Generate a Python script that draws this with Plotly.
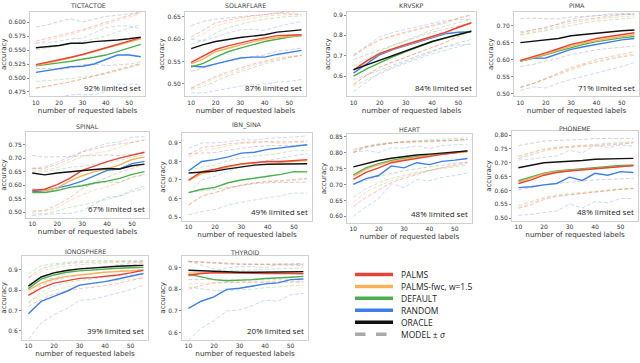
import plotly.graph_objects as go

X = [10, 15, 20, 25, 30, 35, 40, 45, 50, 55]

TITLES = ["TICTACTOE", "SOLARFLARE", "KRVSKP", "PIMA", "SPINAL",
          "IBN_SINA", "HEART", "PHONEME", "IONOSPHERE", "THYROID"]
LIMITED = ["92%", "87%", "84%", "71%", "67%", "49%", "48%", "48%", "39%", "20%"]
SERIES_NAMES = ["PALMS", "PALMS-fwc, w=1.5", "DEFAULT", "RANDOM", "ORACLE"]

# ---------------- TICTACTOE
TICTACTOE_PALMS = [0.524, 0.528, 0.532, 0.537, 0.542, 0.548, 0.554, 0.560, 0.566, 0.572]
TICTACTOE_FWC = [0.522, 0.526, 0.531, 0.536, 0.541, 0.547, 0.553, 0.559, 0.564, 0.570]
TICTACTOE_DEFAULT = [0.522, 0.524, 0.527, 0.530, 0.533, 0.537, 0.541, 0.547, 0.553, 0.560]
TICTACTOE_RANDOM = [0.510, 0.513, 0.516, 0.520, 0.521, 0.525, 0.533, 0.541, 0.541, 0.538]
TICTACTOE_ORACLE = [0.554, 0.556, 0.558, 0.562, 0.562, 0.565, 0.566, 0.568, 0.570, 0.573]
TICTACTOE_PALMS_SD = [0.042, 0.043, 0.043, 0.044, 0.044, 0.045, 0.045, 0.045, 0.046, 0.046]
TICTACTOE_FWC_SD = [0.040, 0.041, 0.041, 0.042, 0.043, 0.043, 0.044, 0.044, 0.045, 0.045]
TICTACTOE_DEFAULT_SD = [0.028, 0.029, 0.030, 0.031, 0.032, 0.033, 0.034, 0.035, 0.035, 0.036]
TICTACTOE_RANDOM_SD = [0.052, 0.050, 0.050, 0.050, 0.050, 0.055, 0.057, 0.052, 0.052, 0.050]
TICTACTOE_ORACLE_SD = [0.037, 0.039, 0.043, 0.044, 0.038, 0.040, 0.044, 0.044, 0.045, 0.044]

# ---------------- SOLARFLARE
SOLARFLARE_PALMS = [0.548, 0.562, 0.577, 0.585, 0.592, 0.598, 0.603, 0.608, 0.609, 0.610]
SOLARFLARE_FWC = [0.545, 0.556, 0.572, 0.580, 0.587, 0.594, 0.600, 0.604, 0.607, 0.609]
SOLARFLARE_DEFAULT = [0.538, 0.546, 0.560, 0.572, 0.580, 0.588, 0.595, 0.600, 0.605, 0.608]
SOLARFLARE_RANDOM = [0.540, 0.538, 0.545, 0.552, 0.558, 0.560, 0.560, 0.566, 0.570, 0.575]
SOLARFLARE_ORACLE = [0.579, 0.588, 0.595, 0.600, 0.604, 0.607, 0.610, 0.616, 0.619, 0.621]
SOLARFLARE_PALMS_SD = [0.057, 0.058, 0.060, 0.058, 0.056, 0.054, 0.052, 0.050, 0.048, 0.046]
SOLARFLARE_FWC_SD = [0.055, 0.056, 0.058, 0.057, 0.055, 0.053, 0.051, 0.050, 0.048, 0.046]
SOLARFLARE_DEFAULT_SD = [0.050, 0.052, 0.054, 0.054, 0.053, 0.052, 0.050, 0.048, 0.046, 0.044]
SOLARFLARE_RANDOM_SD = [0.060, 0.058, 0.060, 0.062, 0.063, 0.062, 0.060, 0.062, 0.064, 0.065]
SOLARFLARE_ORACLE_SD = [0.051, 0.052, 0.050, 0.048, 0.047, 0.046, 0.045, 0.043, 0.042, 0.041]

# ---------------- KRVSKP
KRVSKP_PALMS = [0.630, 0.675, 0.712, 0.735, 0.755, 0.775, 0.795, 0.815, 0.840, 0.862]
KRVSKP_FWC = [0.628, 0.672, 0.710, 0.733, 0.752, 0.772, 0.792, 0.812, 0.838, 0.860]
KRVSKP_DEFAULT = [0.600, 0.635, 0.665, 0.695, 0.720, 0.745, 0.768, 0.786, 0.804, 0.820]
KRVSKP_RANDOM = [0.615, 0.660, 0.705, 0.730, 0.750, 0.770, 0.790, 0.808, 0.815, 0.818]
KRVSKP_ORACLE = [0.632, 0.655, 0.680, 0.703, 0.725, 0.748, 0.770, 0.788, 0.805, 0.820]
KRVSKP_PALMS_SD = [0.070, 0.070, 0.068, 0.065, 0.062, 0.058, 0.054, 0.050, 0.045, 0.040]
KRVSKP_FWC_SD = [0.070, 0.068, 0.066, 0.063, 0.060, 0.056, 0.052, 0.048, 0.044, 0.040]
KRVSKP_DEFAULT_SD = [0.050, 0.052, 0.055, 0.056, 0.057, 0.058, 0.058, 0.059, 0.060, 0.060]
KRVSKP_RANDOM_SD = [0.090, 0.090, 0.088, 0.085, 0.080, 0.075, 0.070, 0.065, 0.062, 0.060]
KRVSKP_ORACLE_SD = [0.050, 0.050, 0.050, 0.050, 0.048, 0.046, 0.045, 0.043, 0.042, 0.040]

# ---------------- PIMA
PIMA_PALMS = [0.598, 0.608, 0.620, 0.632, 0.645, 0.653, 0.662, 0.668, 0.674, 0.679]
PIMA_FWC = [0.596, 0.605, 0.616, 0.628, 0.640, 0.649, 0.657, 0.663, 0.668, 0.673]
PIMA_DEFAULT = [0.596, 0.604, 0.614, 0.625, 0.636, 0.645, 0.653, 0.659, 0.664, 0.668]
PIMA_RANDOM = [0.596, 0.604, 0.605, 0.618, 0.630, 0.638, 0.645, 0.652, 0.658, 0.662]
PIMA_ORACLE = [0.650, 0.654, 0.658, 0.662, 0.670, 0.674, 0.679, 0.682, 0.685, 0.687]
PIMA_PALMS_SD = [0.080, 0.078, 0.075, 0.072, 0.068, 0.065, 0.062, 0.060, 0.058, 0.056]
PIMA_FWC_SD = [0.078, 0.076, 0.073, 0.070, 0.067, 0.064, 0.062, 0.060, 0.058, 0.056]
PIMA_DEFAULT_SD = [0.076, 0.074, 0.071, 0.068, 0.065, 0.062, 0.060, 0.058, 0.056, 0.055]
PIMA_RANDOM_SD = [0.086, 0.084, 0.088, 0.087, 0.088, 0.087, 0.085, 0.082, 0.078, 0.070]
PIMA_ORACLE_SD = [0.070, 0.068, 0.062, 0.058, 0.055, 0.052, 0.050, 0.049, 0.048, 0.047]

# ---------------- SPINAL
SPINAL_PALMS = [0.580, 0.585, 0.602, 0.625, 0.655, 0.672, 0.687, 0.700, 0.710, 0.722]
SPINAL_FWC = [0.585, 0.580, 0.590, 0.615, 0.635, 0.650, 0.660, 0.675, 0.695, 0.705]
SPINAL_DEFAULT = [0.573, 0.573, 0.580, 0.592, 0.598, 0.608, 0.615, 0.625, 0.640, 0.650]
SPINAL_RANDOM = [0.575, 0.580, 0.590, 0.600, 0.615, 0.635, 0.655, 0.660, 0.680, 0.688]
SPINAL_ORACLE = [0.645, 0.638, 0.645, 0.650, 0.655, 0.658, 0.662, 0.660, 0.672, 0.678]
SPINAL_PALMS_SD = [0.080, 0.078, 0.075, 0.072, 0.068, 0.062, 0.058, 0.053, 0.048, 0.045]
SPINAL_FWC_SD = [0.078, 0.076, 0.074, 0.072, 0.070, 0.068, 0.066, 0.065, 0.064, 0.064]
SPINAL_DEFAULT_SD = [0.080, 0.078, 0.076, 0.074, 0.072, 0.070, 0.068, 0.066, 0.064, 0.062]
SPINAL_RANDOM_SD = [0.088, 0.088, 0.095, 0.105, 0.110, 0.105, 0.100, 0.100, 0.098, 0.092]
SPINAL_ORACLE_SD = [0.065, 0.066, 0.060, 0.057, 0.055, 0.053, 0.050, 0.050, 0.043, 0.040]

# ---------------- IBN_SINA
IBNSINA_PALMS = [0.700, 0.745, 0.758, 0.775, 0.787, 0.795, 0.800, 0.800, 0.805, 0.810]
IBNSINA_FWC = [0.695, 0.735, 0.750, 0.770, 0.785, 0.792, 0.800, 0.795, 0.800, 0.805]
IBNSINA_DEFAULT = [0.632, 0.650, 0.660, 0.685, 0.700, 0.712, 0.720, 0.730, 0.745, 0.744]
IBNSINA_RANDOM = [0.750, 0.800, 0.810, 0.825, 0.845, 0.850, 0.865, 0.872, 0.882, 0.890]
IBNSINA_ORACLE = [0.738, 0.743, 0.748, 0.760, 0.770, 0.780, 0.785, 0.787, 0.788, 0.788]
IBNSINA_PALMS_SD = [0.135, 0.130, 0.125, 0.120, 0.115, 0.110, 0.108, 0.105, 0.103, 0.100]
IBNSINA_FWC_SD = [0.130, 0.125, 0.120, 0.116, 0.112, 0.108, 0.105, 0.103, 0.101, 0.100]
IBNSINA_DEFAULT_SD = [0.120, 0.120, 0.120, 0.120, 0.120, 0.118, 0.116, 0.115, 0.115, 0.115]
IBNSINA_RANDOM_SD = [0.120, 0.100, 0.090, 0.080, 0.072, 0.065, 0.060, 0.055, 0.050, 0.048]
IBNSINA_ORACLE_SD = [0.105, 0.102, 0.100, 0.100, 0.100, 0.100, 0.100, 0.100, 0.100, 0.100]

# ---------------- HEART
HEART_PALMS = [0.716, 0.738, 0.752, 0.768, 0.775, 0.782, 0.788, 0.794, 0.799, 0.805]
HEART_FWC = [0.725, 0.748, 0.762, 0.772, 0.779, 0.785, 0.790, 0.794, 0.799, 0.803]
HEART_DEFAULT = [0.730, 0.752, 0.765, 0.775, 0.782, 0.787, 0.792, 0.796, 0.800, 0.803]
HEART_RANDOM = [0.700, 0.718, 0.728, 0.758, 0.752, 0.768, 0.762, 0.772, 0.776, 0.781]
HEART_ORACLE = [0.755, 0.766, 0.775, 0.782, 0.788, 0.792, 0.795, 0.799, 0.802, 0.805]
HEART_PALMS_SD = [0.085, 0.078, 0.070, 0.062, 0.056, 0.050, 0.045, 0.041, 0.038, 0.036]
HEART_FWC_SD = [0.080, 0.072, 0.066, 0.060, 0.055, 0.050, 0.046, 0.043, 0.040, 0.038]
HEART_DEFAULT_SD = [0.070, 0.065, 0.060, 0.056, 0.053, 0.050, 0.048, 0.046, 0.044, 0.043]
HEART_RANDOM_SD = [0.100, 0.088, 0.072, 0.056, 0.062, 0.053, 0.050, 0.050, 0.048, 0.045]
HEART_ORACLE_SD = [0.055, 0.053, 0.050, 0.048, 0.045, 0.043, 0.040, 0.038, 0.036, 0.035]

# ---------------- PHONEME
PHONEME_PALMS = [0.625, 0.638, 0.655, 0.665, 0.670, 0.674, 0.676, 0.680, 0.685, 0.690]
PHONEME_FWC = [0.630, 0.645, 0.660, 0.668, 0.672, 0.676, 0.680, 0.684, 0.688, 0.690]
PHONEME_DEFAULT = [0.635, 0.648, 0.662, 0.670, 0.674, 0.678, 0.682, 0.685, 0.690, 0.691]
PHONEME_RANDOM = [0.610, 0.613, 0.620, 0.625, 0.648, 0.636, 0.662, 0.655, 0.668, 0.665]
PHONEME_ORACLE = [0.682, 0.690, 0.700, 0.703, 0.705, 0.708, 0.713, 0.713, 0.715, 0.716]
PHONEME_PALMS_SD = [0.090, 0.090, 0.088, 0.087, 0.086, 0.085, 0.084, 0.083, 0.082, 0.082]
PHONEME_FWC_SD = [0.092, 0.090, 0.089, 0.088, 0.087, 0.086, 0.085, 0.084, 0.084, 0.083]
PHONEME_DEFAULT_SD = [0.090, 0.088, 0.087, 0.086, 0.086, 0.085, 0.085, 0.085, 0.084, 0.084]
PHONEME_RANDOM_SD = [0.100, 0.100, 0.100, 0.100, 0.097, 0.100, 0.102, 0.100, 0.097, 0.095]
PHONEME_ORACLE_SD = [0.080, 0.080, 0.079, 0.078, 0.077, 0.076, 0.075, 0.074, 0.073, 0.072]

# ---------------- IONOSPHERE
IONOSPHERE_PALMS = [0.775, 0.810, 0.835, 0.848, 0.858, 0.862, 0.868, 0.875, 0.885, 0.898]
IONOSPHERE_FWC = [0.800, 0.835, 0.855, 0.868, 0.875, 0.882, 0.888, 0.892, 0.895, 0.898]
IONOSPHERE_DEFAULT = [0.808, 0.855, 0.875, 0.888, 0.895, 0.900, 0.905, 0.908, 0.910, 0.912]
IONOSPHERE_RANDOM = [0.685, 0.745, 0.770, 0.795, 0.825, 0.832, 0.842, 0.855, 0.868, 0.882]
IONOSPHERE_ORACLE = [0.820, 0.865, 0.885, 0.897, 0.905, 0.910, 0.915, 0.918, 0.920, 0.922]
IONOSPHERE_PALMS_SD = [0.055, 0.055, 0.054, 0.052, 0.050, 0.048, 0.045, 0.042, 0.038, 0.035]
IONOSPHERE_FWC_SD = [0.060, 0.058, 0.055, 0.052, 0.050, 0.048, 0.046, 0.044, 0.042, 0.040]
IONOSPHERE_DEFAULT_SD = [0.072, 0.065, 0.055, 0.050, 0.048, 0.045, 0.040, 0.037, 0.035, 0.033]
IONOSPHERE_RANDOM_SD = [0.125, 0.105, 0.090, 0.085, 0.075, 0.077, 0.072, 0.070, 0.066, 0.058]
IONOSPHERE_ORACLE_SD = [0.042, 0.040, 0.037, 0.034, 0.031, 0.028, 0.026, 0.024, 0.022, 0.020]

# ---------------- THYROID
THYROID_PALMS = [0.865, 0.873, 0.877, 0.877, 0.875, 0.874, 0.873, 0.874, 0.873, 0.872]
THYROID_FWC = [0.875, 0.876, 0.878, 0.878, 0.876, 0.875, 0.876, 0.877, 0.876, 0.875]
THYROID_DEFAULT = [0.870, 0.858, 0.845, 0.840, 0.842, 0.845, 0.850, 0.852, 0.856, 0.860]
THYROID_RANDOM = [0.712, 0.745, 0.765, 0.800, 0.805, 0.815, 0.825, 0.830, 0.845, 0.848]
THYROID_ORACLE = [0.888, 0.885, 0.882, 0.880, 0.879, 0.879, 0.880, 0.880, 0.881, 0.882]
THYROID_PALMS_SD = [0.065, 0.055, 0.048, 0.045, 0.043, 0.042, 0.040, 0.040, 0.039, 0.038]
THYROID_FWC_SD = [0.050, 0.048, 0.045, 0.042, 0.040, 0.040, 0.040, 0.040, 0.040, 0.040]
THYROID_DEFAULT_SD = [0.060, 0.055, 0.050, 0.046, 0.045, 0.044, 0.043, 0.042, 0.040, 0.040]
THYROID_RANDOM_SD = [0.148, 0.125, 0.110, 0.100, 0.100, 0.090, 0.075, 0.085, 0.070, 0.067]
THYROID_ORACLE_SD = [0.042, 0.040, 0.038, 0.037, 0.036, 0.036, 0.036, 0.036, 0.037, 0.038]

DATA = [
    [(TICTACTOE_PALMS, TICTACTOE_PALMS_SD), (TICTACTOE_FWC, TICTACTOE_FWC_SD), (TICTACTOE_DEFAULT, TICTACTOE_DEFAULT_SD), (TICTACTOE_RANDOM, TICTACTOE_RANDOM_SD), (TICTACTOE_ORACLE, TICTACTOE_ORACLE_SD)],
    [(SOLARFLARE_PALMS, SOLARFLARE_PALMS_SD), (SOLARFLARE_FWC, SOLARFLARE_FWC_SD), (SOLARFLARE_DEFAULT, SOLARFLARE_DEFAULT_SD), (SOLARFLARE_RANDOM, SOLARFLARE_RANDOM_SD), (SOLARFLARE_ORACLE, SOLARFLARE_ORACLE_SD)],
    [(KRVSKP_PALMS, KRVSKP_PALMS_SD), (KRVSKP_FWC, KRVSKP_FWC_SD), (KRVSKP_DEFAULT, KRVSKP_DEFAULT_SD), (KRVSKP_RANDOM, KRVSKP_RANDOM_SD), (KRVSKP_ORACLE, KRVSKP_ORACLE_SD)],
    [(PIMA_PALMS, PIMA_PALMS_SD), (PIMA_FWC, PIMA_FWC_SD), (PIMA_DEFAULT, PIMA_DEFAULT_SD), (PIMA_RANDOM, PIMA_RANDOM_SD), (PIMA_ORACLE, PIMA_ORACLE_SD)],
    [(SPINAL_PALMS, SPINAL_PALMS_SD), (SPINAL_FWC, SPINAL_FWC_SD), (SPINAL_DEFAULT, SPINAL_DEFAULT_SD), (SPINAL_RANDOM, SPINAL_RANDOM_SD), (SPINAL_ORACLE, SPINAL_ORACLE_SD)],
    [(IBNSINA_PALMS, IBNSINA_PALMS_SD), (IBNSINA_FWC, IBNSINA_FWC_SD), (IBNSINA_DEFAULT, IBNSINA_DEFAULT_SD), (IBNSINA_RANDOM, IBNSINA_RANDOM_SD), (IBNSINA_ORACLE, IBNSINA_ORACLE_SD)],
    [(HEART_PALMS, HEART_PALMS_SD), (HEART_FWC, HEART_FWC_SD), (HEART_DEFAULT, HEART_DEFAULT_SD), (HEART_RANDOM, HEART_RANDOM_SD), (HEART_ORACLE, HEART_ORACLE_SD)],
    [(PHONEME_PALMS, PHONEME_PALMS_SD), (PHONEME_FWC, PHONEME_FWC_SD), (PHONEME_DEFAULT, PHONEME_DEFAULT_SD), (PHONEME_RANDOM, PHONEME_RANDOM_SD), (PHONEME_ORACLE, PHONEME_ORACLE_SD)],
    [(IONOSPHERE_PALMS, IONOSPHERE_PALMS_SD), (IONOSPHERE_FWC, IONOSPHERE_FWC_SD), (IONOSPHERE_DEFAULT, IONOSPHERE_DEFAULT_SD), (IONOSPHERE_RANDOM, IONOSPHERE_RANDOM_SD), (IONOSPHERE_ORACLE, IONOSPHERE_ORACLE_SD)],
    [(THYROID_PALMS, THYROID_PALMS_SD), (THYROID_FWC, THYROID_FWC_SD), (THYROID_DEFAULT, THYROID_DEFAULT_SD), (THYROID_RANDOM, THYROID_RANDOM_SD), (THYROID_ORACLE, THYROID_ORACLE_SD)],
]

# ---------------- layout (pixels in a 640x363 canvas)
W, H = 640, 363
# (left, right, top, bottom) of each panel's plotting area
BOXES = [(30, 145, 10, 95), (185, 306, 10, 95), (347, 476, 10, 95), (514, 639, 10, 95),
         (26, 149, 131, 217), (182, 312, 132, 220), (347, 472, 133, 222), (512, 638, 130, 220),
         (22, 148, 255, 340), (182, 308, 255, 340)]
TITLE_Y = [4, 4, 4, 4, 125, 124, 128, 127, 251, 252]
YRANGES = [(0.467, 0.618), (0.472, 0.661), (0.50, 0.915), (0.492, 0.740), (0.479, 0.796),
           (0.48, 0.952), (0.58, 0.857), (0.49, 0.814), (0.555, 0.97), (0.565, 0.956)]
YTICKS = [[0.475, 0.5, 0.525, 0.55, 0.575, 0.6], [0.5, 0.55, 0.6, 0.65], [0.6, 0.7, 0.8, 0.9],
          [0.5, 0.55, 0.6, 0.65, 0.7], [0.5, 0.55, 0.6, 0.65, 0.7, 0.75], [0.5, 0.6, 0.7, 0.8, 0.9],
          [0.6, 0.65, 0.7, 0.75, 0.8, 0.85], [0.5, 0.55, 0.6, 0.65, 0.7, 0.75, 0.8],
          [0.6, 0.7, 0.8, 0.9], [0.6, 0.7, 0.8, 0.9]]
YFMT = [".3f", ".2f", ".1f", ".2f", ".2f", ".1f", ".2f", ".2f", ".1f", ".1f"]

COLORS = ["#e8433a", "#f5b35a", "#4caf4f", "#3d7fe6", "#111111"]
BAND_COLORS = ["rgba(232,67,58,0.32)", "rgba(245,179,90,0.42)", "rgba(76,175,79,0.30)",
               "rgba(61,127,230,0.28)", "rgba(140,140,140,0.38)"]
DRAW_ORDER = [3, 2, 1, 0, 4]

FONT = "DejaVu Sans"
fig = go.Figure()
layout = dict(width=W, height=H, margin=dict(l=0, r=0, t=0, b=0),
              paper_bgcolor="white", plot_bgcolor="white", showlegend=False,
              font=dict(family=FONT, size=7, color="#333"))
annotations = []
shapes = []

for i in range(10):
    n = i + 1
    xa = "x" if n == 1 else f"x{n}"
    ya = "y" if n == 1 else f"y{n}"
    l, r, t, b = BOXES[i]
    series = DATA[i]
    for k in DRAW_ORDER:
        mean, sd = series[k]
        up = [m + s for m, s in zip(mean, sd)]
        lo = [m - s for m, s in zip(mean, sd)]
        for arr in (up, lo):
            fig.add_trace(go.Scatter(x=X, y=arr, mode="lines", xaxis=xa, yaxis=ya,
                                     line=dict(color=BAND_COLORS[k], width=1, dash="4px,2px"),
                                     hoverinfo="skip"))
    for k in DRAW_ORDER:
        mean, sd = series[k]
        fig.add_trace(go.Scatter(x=X, y=mean, mode="lines", xaxis=xa, yaxis=ya,
                                 name=SERIES_NAMES[k],
                                 line=dict(color=COLORS[k], width=1.4)))
    common = dict(showgrid=False, zeroline=False, showline=True, mirror=True,
                  linecolor="#cfcfcf", linewidth=1, tickfont=dict(size=6, color="#333"))
    layout["xaxis" if n == 1 else f"xaxis{n}"] = dict(
        domain=[l / W, r / W], anchor=ya, range=[7.5, 56.8],
        tickvals=[10, 20, 30, 40, 50], ticks="",
        title=dict(text="number of requested labels", font=dict(size=7.2), standoff=0),
        **common)
    layout["yaxis" if n == 1 else f"yaxis{n}"] = dict(
        domain=[1 - b / H, 1 - t / H], anchor=xa, range=list(YRANGES[i]),
        tickvals=YTICKS[i], tickformat=YFMT[i], ticks="outside", ticklen=2, tickcolor="#888",
        title=dict(text="accuracy", font=dict(size=7), standoff=1),
        **common)
    annotations.append(dict(text=TITLES[i], xref="paper", yref="paper",
                            x=(l + r) / 2 / W, y=1 - TITLE_Y[i] / H, showarrow=False,
                            xanchor="center", yanchor="middle",
                            font=dict(size=6.3, color="#444")))
    annotations.append(dict(text=f"{LIMITED[i]} limited set",
                            xref=f"{xa} domain", yref=f"{ya} domain", x=0.985, y=0.02,
                            xanchor="right", yanchor="bottom", showarrow=False,
                            font=dict(family="Open Sans", size=8, color="#222")))

# ---------------- legend (drawn in paper space)
LEG_LABELS = SERIES_NAMES + ["MODEL ± <i>σ</i>"]
LEG_COLORS = COLORS + ["#aaaaaa"]
LEG_X0, LEG_X1, LEG_TX = 355, 393, 399
LEG_Y0, LEG_DY = 274, 12
for j, (lab, col) in enumerate(zip(LEG_LABELS, LEG_COLORS)):
    yy = 1 - (LEG_Y0 + j * LEG_DY) / H
    shapes.append(dict(type="line", xref="paper", yref="paper",
                       x0=LEG_X0 / W, x1=LEG_X1 / W, y0=yy, y1=yy,
                       line=dict(color=col, width=3.5, dash="dash" if j == 5 else "solid")))
    annotations.append(dict(text=lab, xref="paper", yref="paper", x=LEG_TX / W, y=yy,
                            xanchor="left", yanchor="middle", showarrow=False,
                            font=dict(family="Open Sans", size=8.5, color="#222")))

layout["annotations"] = annotations
layout["shapes"] = shapes
fig.update_layout(**layout)
fig.write_html("out.html", config={"displayModeBar": False, "staticPlot": True})

# remove the default page margin so the 640x363 figure fills the window exactly
with open("out.html", "r", encoding="utf-8") as fh:
    html = fh.read()
html = html.replace("<head>", "<head><style>html,body{margin:0;padding:0;overflow:hidden;}</style>", 1)
with open("out.html", "w", encoding="utf-8") as fh:
    fh.write(html)
